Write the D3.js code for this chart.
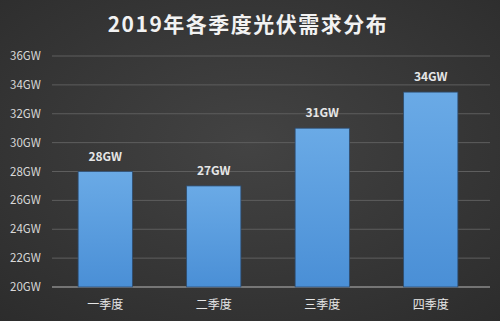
<!DOCTYPE html>
<html>
<head>
<meta charset="utf-8">
<script src="https://cdn.jsdelivr.net/npm/d3@7"></script>
<style>
  html, body { margin: 0; padding: 0; background: #383838; }
  svg { display: block; }
</style>
</head>
<body>
<div id="chart"></div>
<script>
const title = "2019年各季度光伏需求分布"
const quarters = ["一季度", "二季度", "三季度", "四季度"]
const demand = [28, 27, 31, 33.5]
const valueLabels = ["28GW", "27GW", "31GW", "34GW"]
const yTicks = [20, 22, 24, 26, 28, 30, 32, 34, 36]

const width = 500
const height = 321
const font = "'Noto Sans CJK SC', 'Open Sans', sans-serif"

const svg = d3.select("#chart")
  .append("svg")
  .attr("width", width)
  .attr("height", height)

const defs = svg.append("defs")

// background: dark grey with soft vignette
const bg = defs.append("radialGradient")
  .attr("id", "bg")
  .attr("cx", "50%").attr("cy", "45%").attr("r", "75%")
bg.append("stop").attr("offset", "0%").attr("stop-color", "#434343")
bg.append("stop").attr("offset", "100%").attr("stop-color", "#2c2c2c")

const barGrad = defs.append("linearGradient")
  .attr("id", "bar")
  .attr("x1", 0).attr("y1", 0).attr("x2", 0).attr("y2", 1)
barGrad.append("stop").attr("offset", "0%").attr("stop-color", "#6aaae6")
barGrad.append("stop").attr("offset", "100%").attr("stop-color", "#4a8fd6")

svg.append("rect")
  .attr("width", width)
  .attr("height", height)
  .attr("fill", "url(#bg)")

svg.append("text")
  .attr("x", 248)
  .attr("y", 32)
  .attr("text-anchor", "middle")
  .style("font-family", font)
  .style("font-size", "21px")
  .style("font-weight", "bold")
  .style("letter-spacing", "1.5px")
  .attr("fill", "#f2f2f2")
  .text(title)

const x = d3.scaleBand()
  .domain(quarters)
  .range([51, 485])
  .paddingInner(0.5)
  .paddingOuter(0.25)

const y = d3.scaleLinear()
  .domain([20, 36])
  .range([287, 56])

// gridlines
svg.append("g")
  .selectAll("line")
  .data(yTicks)
  .enter()
  .append("line")
  .attr("x1", 52)
  .attr("x2", 490)
  .attr("y1", d => y(d))
  .attr("y2", d => y(d))
  .style("stroke", d => d === 20 ? "#b8b8b8" : "#5e5e5e")
  .style("stroke-width", 1)

// y labels
svg.append("g")
  .selectAll("text")
  .data(yTicks)
  .enter()
  .append("text")
  .attr("x", 10)
  .attr("y", d => y(d) + 4)
  .style("font-family", font)
  .style("font-size", "11.5px")
  .attr("fill", "#d8d8d8")
  .text(d => d + "GW")

// bars
svg.append("g")
  .selectAll("rect")
  .data(demand)
  .enter()
  .append("rect")
  .attr("x", (d, i) => x(quarters[i]))
  .attr("y", d => y(d))
  .attr("width", x.bandwidth())
  .attr("height", d => y(20) - y(d))
  .attr("fill", "url(#bar)")
  .style("stroke", "#2e4d70")
  .style("stroke-width", 0.8)

// value labels
svg.append("g")
  .selectAll("text")
  .data(demand)
  .enter()
  .append("text")
  .attr("x", (d, i) => x(quarters[i]) + x.bandwidth() / 2)
  .attr("y", d => y(d) - 11)
  .attr("text-anchor", "middle")
  .style("font-family", font)
  .style("font-size", "12px")
  .style("font-weight", "bold")
  .attr("fill", "#e6e6e6")
  .text((d, i) => valueLabels[i])

// x labels
svg.append("g")
  .selectAll("text")
  .data(quarters)
  .enter()
  .append("text")
  .attr("x", d => x(d) + x.bandwidth() / 2)
  .attr("y", 309)
  .attr("text-anchor", "middle")
  .style("font-family", font)
  .style("font-size", "12px")
  .attr("fill", "#e6e6e6")
  .text(d => d)
</script>
</body>
</html>
